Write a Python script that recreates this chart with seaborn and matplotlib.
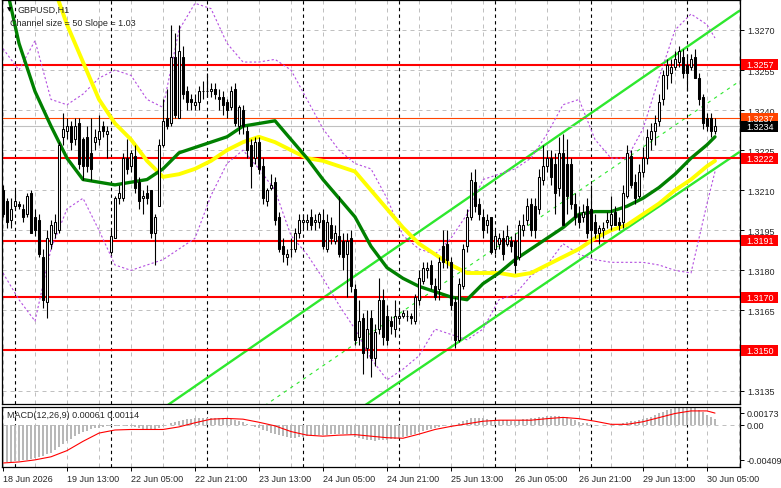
import numpy as np
import pandas as pd
import seaborn as sns
import matplotlib.pyplot as plt
from matplotlib.patches import Rectangle
from matplotlib.transforms import blended_transform_factory

#-----------------------------------------------------------------------------------------------------------------------
"""Data read off the chart (GBPUSD H1)"""
opens = [1.3210, 1.3206, 1.3199, 1.3204, 1.3205, 1.3203, 1.3201, 1.3209, 1.3200, 1.3199,
         1.3185, 1.3168, 1.3190, 1.3194, 1.3195, 1.3230, 1.3232, 1.3234, 1.3229, 1.3235,
         1.3229, 1.3230, 1.3224, 1.3228, 1.3229, 1.3234, 1.3231, 1.3187, 1.3192, 1.3207,
         1.3207, 1.3222, 1.3219, 1.3223, 1.3213, 1.3207, 1.3209, 1.3210, 1.3194, 1.3204,
         1.3227, 1.3237, 1.3235, 1.3260, 1.3237, 1.3260, 1.3247, 1.3244, 1.3242, 1.3243,
         1.3247, 1.3247, 1.3247, 1.3248, 1.3245, 1.3245, 1.3243, 1.3241, 1.3248, 1.3234,
         1.3240, 1.3232, 1.3227, 1.3222, 1.3228, 1.3219, 1.3206, 1.3211, 1.3213, 1.3200,
         1.3189, 1.3185, 1.3188, 1.3188, 1.3194, 1.3198, 1.3198, 1.3200, 1.3198, 1.3198,
         1.3199, 1.3188, 1.3197, 1.3191, 1.3193, 1.3191, 1.3186, 1.3192, 1.3173, 1.3155,
         1.3162, 1.3151, 1.3162, 1.3147, 1.3158, 1.3169, 1.3163, 1.3161, 1.3158, 1.3162,
         1.3163, 1.3163, 1.3163, 1.3161, 1.3169, 1.3176, 1.3180, 1.3182, 1.3174, 1.3173,
         1.3189, 1.3190, 1.3183, 1.3168, 1.3154, 1.3174, 1.3189, 1.3200, 1.3213, 1.3205,
         1.3200, 1.3197, 1.3200, 1.3188, 1.3190, 1.3192, 1.3190, 1.3191, 1.3191, 1.3185,
         1.3195, 1.3199, 1.3205, 1.3204, 1.3203, 1.3214, 1.3219, 1.3222, 1.3220, 1.3211,
         1.3224, 1.3220, 1.3220, 1.3205, 1.3201, 1.3200, 1.3204, 1.3203, 1.3198, 1.3194,
         1.3195, 1.3198, 1.3197, 1.3202, 1.3198, 1.3198, 1.3208, 1.3223, 1.3213, 1.3208,
         1.3217, 1.3222, 1.3229, 1.3232, 1.3236, 1.3244, 1.3253, 1.3254, 1.3256, 1.3258,
         1.3260, 1.3257, 1.3256, 1.3260, 1.3252, 1.3245, 1.3237, 1.3237, 1.3232]
highs = [1.3212, 1.3207, 1.3207, 1.3210, 1.3206, 1.3205, 1.3209, 1.3210, 1.3203, 1.3201,
         1.3188, 1.3195, 1.3199, 1.3201, 1.3228, 1.3239, 1.3237, 1.3236, 1.3237, 1.3237,
         1.3230, 1.3234, 1.3237, 1.3233, 1.3238, 1.3236, 1.3234, 1.3195, 1.3208, 1.3212,
         1.3224, 1.3229, 1.3225, 1.3227, 1.3215, 1.3210, 1.3212, 1.3210, 1.3201, 1.3229,
         1.3244, 1.3248, 1.3272, 1.3269, 1.3272, 1.3264, 1.3249, 1.3246, 1.3246, 1.3249,
         1.3251, 1.3254, 1.3250, 1.3250, 1.3248, 1.3247, 1.3244, 1.3249, 1.3250, 1.3242,
         1.3242, 1.3234, 1.3229, 1.3230, 1.3230, 1.3222, 1.3211, 1.3216, 1.3215, 1.3202,
         1.3192, 1.3188, 1.3192, 1.3196, 1.3201, 1.3201, 1.3201, 1.3203, 1.3201, 1.3202,
         1.3203, 1.3201, 1.3200, 1.3197, 1.3208, 1.3194, 1.3194, 1.3195, 1.3175, 1.3169,
         1.3164, 1.3165, 1.3165, 1.3160, 1.3177, 1.3173, 1.3167, 1.3163, 1.3169, 1.3165,
         1.3165, 1.3165, 1.3164, 1.3171, 1.3180, 1.3183, 1.3183, 1.3184, 1.3177, 1.3185,
         1.3195, 1.3195, 1.3185, 1.3170, 1.3177, 1.3190, 1.3203, 1.3217, 1.3218, 1.3207,
         1.3203, 1.3201, 1.3200, 1.3195, 1.3194, 1.3195, 1.3197, 1.3193, 1.3194, 1.3199,
         1.3201, 1.3207, 1.3207, 1.3207, 1.3218, 1.3227, 1.3225, 1.3225, 1.3224, 1.3230,
         1.3231, 1.3229, 1.3222, 1.3209, 1.3204, 1.3205, 1.3207, 1.3212, 1.3201, 1.3197,
         1.3198, 1.3202, 1.3208, 1.3204, 1.3200, 1.3212, 1.3227, 1.3225, 1.3216, 1.3220,
         1.3226, 1.3233, 1.3235, 1.3238, 1.3246, 1.3255, 1.3259, 1.3259, 1.3262, 1.3264,
         1.3263, 1.3261, 1.3261, 1.3263, 1.3254, 1.3246, 1.3239, 1.3239, 1.3237]
lows = [1.3200, 1.3196, 1.3196, 1.3203, 1.3203, 1.3198, 1.3200, 1.3194, 1.3193, 1.3185,
        1.3166, 1.3162, 1.3188, 1.3192, 1.3194, 1.3227, 1.3229, 1.3225, 1.3227, 1.3218,
        1.3214, 1.3217, 1.3214, 1.3225, 1.3227, 1.3230, 1.3222, 1.3186, 1.3192, 1.3205,
        1.3206, 1.3216, 1.3217, 1.3209, 1.3203, 1.3201, 1.3205, 1.3192, 1.3182, 1.3204,
        1.3226, 1.3233, 1.3234, 1.3237, 1.3237, 1.3244, 1.3240, 1.3240, 1.3240, 1.3240,
        1.3244, 1.3245, 1.3245, 1.3244, 1.3240, 1.3238, 1.3237, 1.3240, 1.3234, 1.3231,
        1.3231, 1.3222, 1.3211, 1.3220, 1.3216, 1.3205, 1.3204, 1.3210, 1.3197, 1.3187,
        1.3183, 1.3182, 1.3185, 1.3187, 1.3192, 1.3196, 1.3195, 1.3195, 1.3195, 1.3196,
        1.3188, 1.3187, 1.3190, 1.3190, 1.3185, 1.3180, 1.3170, 1.3172, 1.3152, 1.3152,
        1.3141, 1.3147, 1.3140, 1.3144, 1.3156, 1.3152, 1.3152, 1.3156, 1.3155, 1.3160,
        1.3162, 1.3161, 1.3160, 1.3160, 1.3167, 1.3175, 1.3177, 1.3173, 1.3169, 1.3169,
        1.3181, 1.3181, 1.3165, 1.3151, 1.3153, 1.3173, 1.3187, 1.3199, 1.3202, 1.3199,
        1.3192, 1.3194, 1.3186, 1.3186, 1.3188, 1.3184, 1.3189, 1.3187, 1.3179, 1.3184,
        1.3193, 1.3197, 1.3193, 1.3192, 1.3201, 1.3212, 1.3217, 1.3212, 1.3201, 1.3208,
        1.3197, 1.3201, 1.3203, 1.3197, 1.3196, 1.3198, 1.3192, 1.3188, 1.3192, 1.3190,
        1.3192, 1.3196, 1.3195, 1.3197, 1.3195, 1.3196, 1.3207, 1.3211, 1.3205, 1.3207,
        1.3215, 1.3220, 1.3225, 1.3227, 1.3234, 1.3242, 1.3248, 1.3250, 1.3255, 1.3256,
        1.3252, 1.3247, 1.3255, 1.3252, 1.3242, 1.3233, 1.3232, 1.3230, 1.3231]
closes = [1.3201, 1.3198, 1.3203, 1.3206, 1.3204, 1.3200, 1.3208, 1.3194, 1.3195, 1.3186,
          1.3169, 1.3192, 1.3197, 1.3198, 1.3227, 1.3233, 1.3234, 1.3228, 1.3234, 1.3220,
          1.3219, 1.3219, 1.3218, 1.3230, 1.3232, 1.3232, 1.3232, 1.3193, 1.3207, 1.3209,
          1.3222, 1.3218, 1.3224, 1.3211, 1.3206, 1.3208, 1.3207, 1.3194, 1.3200, 1.3227,
          1.3236, 1.3234, 1.3260, 1.3238, 1.3262, 1.3246, 1.3243, 1.3243, 1.3243, 1.3247,
          1.3247, 1.3247, 1.3248, 1.3246, 1.3244, 1.3242, 1.3240, 1.3247, 1.3235, 1.3241,
          1.3234, 1.3225, 1.3219, 1.3228, 1.3218, 1.3207, 1.3210, 1.3212, 1.3199, 1.3188,
          1.3186, 1.3186, 1.3188, 1.3194, 1.3199, 1.3199, 1.3199, 1.3197, 1.3199, 1.3201,
          1.3189, 1.3198, 1.3192, 1.3194, 1.3186, 1.3185, 1.3191, 1.3174, 1.3154, 1.3161,
          1.3149, 1.3158, 1.3147, 1.3157, 1.3169, 1.3155, 1.3154, 1.3159, 1.3163, 1.3163,
          1.3164, 1.3163, 1.3162, 1.3170, 1.3177, 1.3181, 1.3181, 1.3175, 1.3170, 1.3183,
          1.3183, 1.3184, 1.3167, 1.3154, 1.3175, 1.3188, 1.3200, 1.3214, 1.3204, 1.3201,
          1.3195, 1.3199, 1.3187, 1.3193, 1.3192, 1.3186, 1.3193, 1.3189, 1.3182, 1.3197,
          1.3197, 1.3204, 1.3195, 1.3195, 1.3215, 1.3219, 1.3222, 1.3215, 1.3209, 1.3224,
          1.3197, 1.3208, 1.3205, 1.3200, 1.3198, 1.3202, 1.3194, 1.3195, 1.3194, 1.3196,
          1.3196, 1.3199, 1.3201, 1.3197, 1.3197, 1.3209, 1.3224, 1.3212, 1.3207, 1.3217,
          1.3222, 1.3230, 1.3232, 1.3235, 1.3243, 1.3253, 1.3257, 1.3256, 1.3259, 1.3262,
          1.3254, 1.3254, 1.3259, 1.3252, 1.3244, 1.3235, 1.3234, 1.3232, 1.3234]

# indicator lines, read every 4th bar (last point = last bar)
line_bars = list(range(0, 177, 4)) + [178]
ma_green = [1.3292, 1.3265, 1.3247, 1.3234, 1.3222, 1.3214, 1.3213, 1.3212, 1.3213, 1.3214,
            1.3218, 1.3224, 1.3226, 1.3228, 1.3230, 1.3234, 1.3235, 1.3236, 1.3229, 1.3222,
            1.3214, 1.3207, 1.3200, 1.3189, 1.3181, 1.3177, 1.3174, 1.3172, 1.3170, 1.3169,
            1.3175, 1.3179, 1.3184, 1.3188, 1.3192, 1.3196, 1.3201, 1.3202, 1.3202, 1.3204,
            1.3207, 1.3211, 1.3216, 1.3222, 1.3227, 1.3230]
ma_yellow = [1.3338, 1.3321, 1.3305, 1.3289, 1.3272, 1.3258, 1.3244, 1.3235, 1.3229, 1.3221,
             1.3215, 1.3216, 1.3218, 1.3221, 1.3225, 1.3228, 1.3230, 1.3228, 1.3225, 1.3222,
             1.3221, 1.3219, 1.3217, 1.3210, 1.3203, 1.3196, 1.3190, 1.3186, 1.3182, 1.3179,
             1.3179, 1.3179, 1.3178, 1.3179, 1.3182, 1.3185, 1.3188, 1.3192, 1.3195, 1.3197,
             1.3201, 1.3205, 1.3210, 1.3214, 1.3219, 1.3221]
band_upper = [1.3263, 1.3255, 1.3266, 1.3244, 1.3242, 1.3246, 1.3252, 1.3255, 1.3253, 1.3244,
              1.3241, 1.3270, 1.3280, 1.3278, 1.3265, 1.3258, 1.3258, 1.3259, 1.3255, 1.3244,
              1.3233, 1.3225, 1.3220, 1.3218, 1.3207, 1.3193, 1.3188, 1.3186, 1.3192, 1.3201,
              1.3214, 1.3216, 1.3218, 1.3222, 1.3231, 1.3242, 1.3244, 1.3229, 1.3222, 1.3222,
              1.3233, 1.3252, 1.3270, 1.3276, 1.3272, 1.3267]
band_lower = [1.3179, 1.3169, 1.3161, 1.3188, 1.3203, 1.3207, 1.3195, 1.3182, 1.3180, 1.3182,
              1.3184, 1.3188, 1.3192, 1.3208, 1.3220, 1.3225, 1.3218, 1.3210, 1.3193, 1.3186,
              1.3177, 1.3167, 1.3158, 1.3147, 1.3139, 1.3143, 1.3148, 1.3158, 1.3156, 1.3154,
              1.3158, 1.3169, 1.3171, 1.3178, 1.3182, 1.3190, 1.3186, 1.3184, 1.3183, 1.3183,
              1.3183, 1.3182, 1.3180, 1.3179, 1.3205, 1.3217]
macd_signal = [-0.00370, -0.00360, -0.00340, -0.00310, -0.00250, -0.00160, -0.00080, -0.00050,
               -0.00045, -0.00045, -0.00045, -0.00020, 0.00020, 0.00055, 0.00062, 0.00055,
               0.00025, -0.00010, -0.00065, -0.00100, -0.00110, -0.00100, -0.00095, -0.00110,
               -0.00125, -0.00130, -0.00090, -0.00045, -0.00015, 0.00010, 0.00035, 0.00045,
               0.00045, 0.00045, 0.00060, 0.00072, 0.00060, 0.00035, 0.00005, 0.00005,
               0.00030, 0.00070, 0.00110, 0.00135, 0.00135, 0.00114]

# MACD main (histogram), one per bar
macd_hist = [-0.00360, -0.00360, -0.00358, -0.00355, -0.00350, -0.00345, -0.00338, -0.00330,
             -0.00320, -0.00310, -0.00300, -0.00285, -0.00270, -0.00245, -0.00215, -0.00185,
             -0.00160, -0.00135, -0.00110, -0.00090, -0.00072, -0.00058, -0.00045, -0.00035,
             -0.00028, -0.00020, -0.00012, -0.00010, -0.00012, -0.00010, -0.00005, -0.00008,
             -0.00015, -0.00025, -0.00035, -0.00040, -0.00045, -0.00050, -0.00050, -0.00035,
             -0.00015, 0.00000, 0.00020, 0.00030, 0.00040, 0.00050, 0.00055, 0.00060,
             0.00065, 0.00068, 0.00070, 0.00070, 0.00070, 0.00070, 0.00068, 0.00065,
             0.00060, 0.00055, 0.00045, 0.00035, 0.00025, 0.00010, -0.00005, -0.00020,
             -0.00035, -0.00050, -0.00062, -0.00075, -0.00085, -0.00100, -0.00112, -0.00120,
             -0.00125, -0.00125, -0.00122, -0.00118, -0.00112, -0.00105, -0.00100, -0.00098,
             -0.00098, -0.00095, -0.00092, -0.00090, -0.00090, -0.00090, -0.00092, -0.00100,
             -0.00115, -0.00128, -0.00138, -0.00145, -0.00150, -0.00152, -0.00150, -0.00148,
             -0.00145, -0.00140, -0.00135, -0.00128, -0.00120, -0.00110, -0.00100, -0.00085,
             -0.00070, -0.00058, -0.00048, -0.00040, -0.00032, -0.00022, -0.00012, -0.00005,
             0.00000, 0.00000, 0.00015, 0.00035, 0.00050, 0.00062, 0.00070, 0.00070,
             0.00065, 0.00055, 0.00050, 0.00048, 0.00045, 0.00045, 0.00045, 0.00042,
             0.00040, 0.00045, 0.00052, 0.00060, 0.00062, 0.00068, 0.00075, 0.00080,
             0.00082, 0.00085, 0.00085, 0.00085, 0.00080, 0.00072, 0.00060, 0.00045,
             0.00032, 0.00022, 0.00015, 0.00008, 0.00002, -0.00002, -0.00005, -0.00005,
             -0.00005, -0.00002, 0.00002, 0.00015, 0.00030, 0.00035, 0.00035, 0.00045,
             0.00055, 0.00065, 0.00080, 0.00095, 0.00110, 0.00125, 0.00140, 0.00150,
             0.00160, 0.00165, 0.00170, 0.00172, 0.00170, 0.00160, 0.00140, 0.00120,
             0.00100, 0.00080, 0.00061]

# regression channel anchors (bar, price)
channel_bars = [0, 184]
channel_upper = [1.30870, 1.32771]
channel_mid = [1.30624, 1.32507]
channel_lower = [1.30378, 1.32242]

# horizontal levels
red_levels = [1.3257, 1.3222, 1.3191, 1.3170, 1.3150]
target_level = 1.3237
bid_price = 1.3234

price_ticks = [1.3135, 1.3150, 1.3165, 1.3180, 1.3195, 1.3210, 1.3225, 1.3240, 1.3255, 1.3270]
time_labels = ['18 Jun 2026', '19 Jun 13:00', '22 Jun 05:00', '22 Jun 21:00', '23 Jun 13:00',
               '24 Jun 05:00', '24 Jun 21:00', '25 Jun 13:00', '26 Jun 05:00', '26 Jun 21:00',
               '29 Jun 13:00', '30 Jun 05:00']
day_starts = [3, 27, 51, 75, 99, 123, 147, 171]

#-----------------------------------------------------------------------------------------------------------------------
"""Figure"""
sns.set_theme(style='white')
plt.rcParams['font.family'] = ['Liberation Sans', 'DejaVu Sans']
FS = 6.5

W, H = 781, 489
def box(l, t, r, b):
    return [l / W, 1 - b / H, (r - l) / W, (b - t) / H]

fig = plt.figure(figsize=(W / 100, H / 100), dpi=100)
fig.patch.set_facecolor('white')
ax = fig.add_axes(box(2, 1, 740, 405))
ax2 = fig.add_axes(box(2, 408, 740, 468))

df = pd.DataFrame({'bar': np.arange(len(opens)), 'open': opens, 'high': highs,
                   'low': lows, 'close': closes})
lines = pd.DataFrame({'bar': line_bars, 'green': ma_green, 'yellow': ma_yellow,
                      'up': band_upper, 'lo': band_lower, 'signal': macd_signal})

grid_kw = dict(color='#c0c0c0', lw=0.72, ls=(0, (4, 4)), zorder=0)
day_kw = dict(color='black', lw=0.8, ls=(0, (3, 3)), zorder=0.5)

for a in (ax, ax2):
    a.set_xlim(-0.25, 184.25)
    a.set_facecolor('white')
    for i in range(0, 185, 8):
        a.axvline(i, **grid_kw)
    for d in day_starts:
        a.axvline(d, **day_kw)
    for s in a.spines.values():
        s.set_color('black')
        s.set_linewidth(0.9)
        s.set_visible(True)

#-----------------------------------------------------------------------------------------------------------------------
"""Main price panel"""
ax.set_ylim(1.312995, 1.328123)
for p in price_ticks:
    ax.axhline(p, **grid_kw)

# channel
for vals, ls, lw in [(channel_upper, '-', 1.7), (channel_lower, '-', 1.7), (channel_mid, (0, (3, 4)), 0.8)]:
    sns.lineplot(x=channel_bars, y=vals, ax=ax, color='#2ee82e', lw=lw, linestyle=ls, zorder=1.5)

# levels
for lv in red_levels:
    ax.axhline(lv, color='#ff0000', lw=1.5, zorder=2)
ax.axhline(target_level, color='#ff4500', lw=0.8, zorder=2)
ax.axhline(bid_price, color='#c0c0c0', lw=0.8, zorder=2)

# bands and moving averages
sns.lineplot(data=lines, x='bar', y='up', ax=ax, color='#b44fe0', lw=0.8, linestyle=(0, (2, 2)), zorder=2.2)
sns.lineplot(data=lines, x='bar', y='lo', ax=ax, color='#b44fe0', lw=0.8, linestyle=(0, (2, 2)), zorder=2.2)
sns.lineplot(data=lines, x='bar', y='yellow', ax=ax, color='#ffff00', lw=2.8, zorder=2.4)
sns.lineplot(data=lines, x='bar', y='green', ax=ax, color='#008000', lw=2.4, zorder=2.5)

# candles
up = df['close'] >= df['open']
ax.vlines(df['bar'], df['low'], df['high'], color='black', lw=0.8, zorder=3)
body_lo = np.minimum(df['open'], df['close'])
body_h = (df['close'] - df['open']).abs()
ax.bar(df['bar'][up], body_h[up], bottom=body_lo[up], width=0.68, color='white',
       edgecolor='black', linewidth=0.75, zorder=3.1)
ax.bar(df['bar'][~up], body_h[~up], bottom=body_lo[~up], width=0.68, color='black',
       edgecolor='black', linewidth=0.75, zorder=3.1)

ax.set_xlabel('')
ax.set_ylabel('')
ax.set_xticks([])
ax.yaxis.tick_right()
ax.set_yticks(price_ticks)
# the 1.3150 scale label sits under the 1.3150 level box
ax.set_yticklabels(['' if p in red_levels else f'{p:.4f}' for p in price_ticks])
ax.tick_params(axis='y', right=True, length=3, width=0.7, color='black', labelsize=FS, pad=2.5)

# price labels on the right scale
tr = blended_transform_factory(ax.transAxes, ax.transData)
hpx = 11 / 26706
bx0 = (741 - 2) / 738
bw = 37 / 738
tx = (746 - 2) / 738
for lv, col in [(lv, '#ff0000') for lv in red_levels] + [(target_level, '#ff4500'), (bid_price, 'black')]:
    ax.add_patch(Rectangle((bx0, lv - hpx / 2), bw, hpx, transform=tr, facecolor=col,
                           edgecolor='none', clip_on=False, zorder=10))
    ax.text(tx, lv, f'{lv:.4f}', transform=tr, ha='left', va='center', color='white',
            fontsize=FS, clip_on=False, zorder=11)

# header
ax.text(5 / 738, 1 - 9 / 404, '\u25bc', transform=ax.transAxes, fontsize=4.5, family='DejaVu Sans',
        ha='left', va='center', color='black')
ax.text(16 / 738, 1 - 9 / 404, 'GBPUSD,H1', transform=ax.transAxes, fontsize=FS, ha='left', va='center')
ax.text(8 / 738, 1 - 22 / 404, 'Channel size = 50 Slope = 1.03', transform=ax.transAxes,
        fontsize=FS, ha='left', va='center')

#-----------------------------------------------------------------------------------------------------------------------
"""MACD panel"""
ax2.set_ylim(-0.00409, 0.00173)
ax2.axhline(0, **grid_kw)
ax2.bar(np.arange(len(macd_hist)), macd_hist, width=0.62, color='#b8b8b8', linewidth=0, zorder=1)
sns.lineplot(data=lines, x='bar', y='signal', ax=ax2, color='#ff0000', lw=0.8, zorder=2)
ax2.set_xlabel('')
ax2.set_ylabel('')
ax2.yaxis.tick_right()
ax2.set_yticks([0.001148, 0.0, -0.003411])
ax2.set_yticklabels(['0.00173', '0.00', '-0.00409'])
ax2.tick_params(axis='y', right=True, length=3, width=0.7, color='black', labelsize=FS, pad=2)
ax2.set_xticks(np.arange(0, 177, 16))
ax2.set_xticklabels(time_labels)
ax2.tick_params(axis='x', bottom=True, length=3, width=0.7, color='black', labelsize=FS, pad=2)
for lab in ax2.get_xticklabels():
    lab.set_horizontalalignment('left')
ax2.text(5 / 738, 1 - 8 / 60, 'MACD(12,26,9) 0.00061 0.00114', transform=ax2.transAxes,
         fontsize=FS, ha='left', va='center')

fig.savefig('out.png', dpi=100, facecolor='white')
